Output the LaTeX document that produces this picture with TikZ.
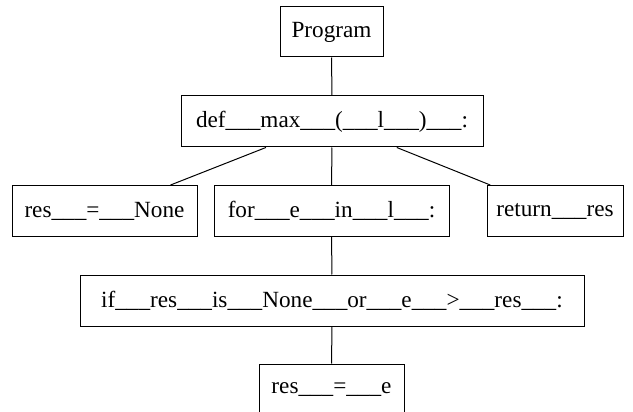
\documentclass[tikz,border=0pt]{standalone}
\usepackage{fontspec}
\setmainfont{Liberation Serif}
\newcommand{\gap}{\_\_\_}
\begin{document}
\begin{tikzpicture}[x=1pt,y=-1pt,
  stmt/.style={draw=black, line width=1pt, minimum height=51pt, inner sep=0pt,
    font=\fontsize{23.2}{27}\selectfont, anchor=center},
  edge/.style={draw=black, line width=1pt}]
  \useasboundingbox (0,0) rectangle (633,412);
  \node[stmt, minimum width=103pt, minimum height=50pt] (prog) at (331.5,32) {Program};
  \node[stmt, minimum width=302pt] (def) at (332,121.5) {def\gap max\gap(\gap l\gap)\gap:};
  \node[stmt, minimum width=185pt] (resn) at (104.5,211) {res\gap=\gap None};
  \node[stmt, minimum width=235pt] (loop) at (331.5,211) {for\gap e\gap in\gap l\gap:};
  \node[stmt, minimum width=136pt] (ret) at (555,211) {return\gap res};
  \node[stmt, minimum width=504pt] (cond) at (332,300.5) {if\gap res\gap is\gap None\gap or\gap e\gap >\gap res\gap:};
  \node[stmt, minimum width=145pt] (rese) at (331.5,389.5) {res\gap=\gap e};
  \draw[edge] (prog) -- (def);
  \draw[edge] (def) -- (resn);
  \draw[edge] (def) -- (loop);
  \draw[edge] (def) -- (ret);
  \draw[edge] (loop) -- (cond);
  \draw[edge] (cond) -- (rese);
\end{tikzpicture}
\end{document}
